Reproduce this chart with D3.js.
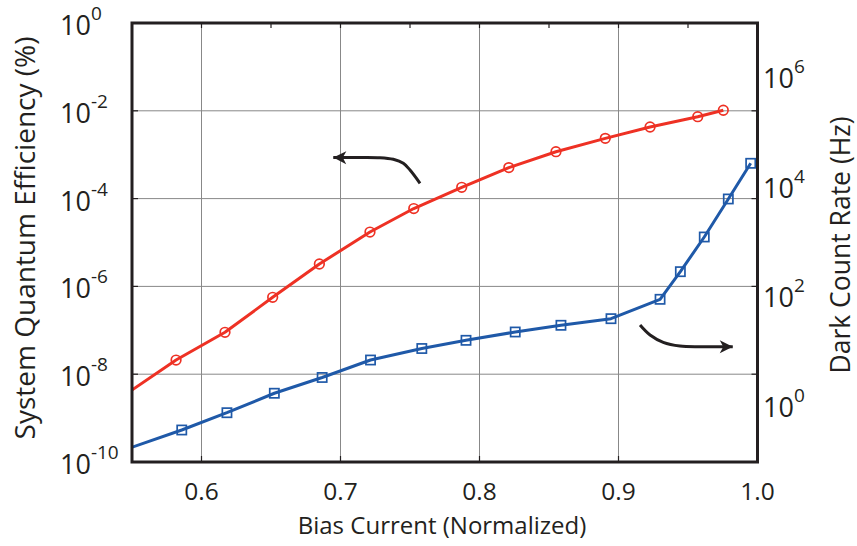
<!DOCTYPE html>
<html>
<head>
<meta charset="utf-8">
<script src="https://cdn.jsdelivr.net/npm/d3@7"></script>
<style>
  body { margin: 0; background: #fff; }
  svg { display: block; }
  text { font-family: "Open Sans", sans-serif; fill: #231f20; }
</style>
</head>
<body>
<svg id="chart" width="857" height="546"></svg>
<script>
// System quantum efficiency (%) vs. normalized bias current (left axis)
const biasSqe = [0.545, 0.5817, 0.6169, 0.6512, 0.6848, 0.7212, 0.7527, 0.7872, 0.8211, 0.8550, 0.8905, 0.9227, 0.9570, 0.9754];
const sqe     = [3.4e-9, 2.1e-8, 9.0e-8, 5.65e-7, 3.24e-6, 1.73e-5, 5.94e-5, 1.81e-4, 5.08e-4, 1.17e-3, 2.36e-3, 4.28e-3, 7.34e-3, 1.03e-2];

// Dark count rate (Hz) vs. normalized bias current (right axis)
const biasDcr = [0.545, 0.5858, 0.6183, 0.6524, 0.6868, 0.7216, 0.7585, 0.7903, 0.8257, 0.8586, 0.8946, 0.9299, 0.9445, 0.9617, 0.9790, 0.9951];
const dcr     = [0.168, 0.383, 0.791, 1.79, 3.47, 7.22, 11.7, 16.5, 23.4, 31.0, 40.9, 92.2, 294, 1260, 6210, 27750];

// Axis ticks
const xTicks      = [0.6, 0.7, 0.8, 0.9, 1.0];
const xTickLabels = ["0.6", "0.7", "0.8", "0.9", "1.0"];
const xMinorTicks = [0.55, 0.6, 0.65, 0.7, 0.75, 0.8, 0.85, 0.9, 0.95, 1.0];
const sqeTicks     = [1e-10, 1e-8, 1e-6, 1e-4, 1e-2, 1];
const sqeExponents = ["-10", "-8", "-6", "-4", "-2", "0"];
const dcrTicks     = [1, 1e2, 1e4, 1e6];
const dcrExponents = ["0", "2", "4", "6"];

// Annotation arrows, in data units of their own axis
const arrowSqeBias = [0.7572, 0.7500, 0.7452, 0.7380, 0.7284, 0.7032, 0.6948];
const arrowSqeVal  = [-3.651, -3.349, -3.196, -3.105, -3.068, -3.066, -3.064].map(e => Math.pow(10, e));
const arrowDcrBias = [0.9155, 0.9227, 0.9322, 0.9442, 0.9586, 0.9730, 0.9822];
const arrowDcrVal  = [1.4966, 1.3144, 1.1814, 1.1139, 1.1011, 1.1011, 1.1011].map(e => Math.pow(10, e));

const RED = "#ee3124", BLUE = "#1f59a8", INK = "#231f20", GRID = "#888888";

const svg = d3.select("#chart");
const plotLeft = 132, plotRight = 757.5, plotTop = 23, plotBottom = 462;

const x  = d3.scaleLinear().domain([0.55, 1.0]).range([plotLeft, plotRight]);
const yL = d3.scaleLog().domain([1e-10, 1]).range([plotBottom, plotTop]);
const yR = d3.scaleLog().domain([0.1, 1e7]).range([plotBottom, plotTop]);

const defs = svg.append("defs");
defs.append("clipPath").attr("id", "plot-clip")
  .append("rect").attr("x", plotLeft).attr("y", plotTop)
  .attr("width", plotRight - plotLeft).attr("height", plotBottom - plotTop);

defs.append("marker")
  .attr("id", "arrowhead")
  .attr("markerUnits", "userSpaceOnUse")
  .attr("viewBox", "-14 -7 15 14")
  .attr("refX", 0).attr("refY", 0)
  .attr("markerWidth", 15).attr("markerHeight", 14)
  .attr("orient", "auto")
  .append("path")
  .attr("d", "M0,0 L-13,-6.5 L-9.5,0 L-13,6.5 Z")
  .attr("fill", INK);

// Grid
const grid = svg.append("g");
grid.selectAll("line.gx").data(xTicks.filter(t => t < 1.0)).join("line").attr("class", "gx")
  .attr("x1", d => x(d)).attr("x2", d => x(d))
  .attr("y1", plotTop).attr("y2", plotBottom)
  .attr("stroke", GRID).attr("stroke-width", 1);
grid.selectAll("line.gy").data(sqeTicks.slice(1, -1)).join("line").attr("class", "gy")
  .attr("x1", plotLeft).attr("x2", plotRight)
  .attr("y1", d => yL(d)).attr("y2", d => yL(d))
  .attr("stroke", GRID).attr("stroke-width", 1);

// Inward ticks on all four sides
const ticks = svg.append("g").attr("stroke", INK).attr("stroke-width", 1.2);
ticks.selectAll("line.l").data(sqeTicks).join("line").attr("class", "l")
  .attr("x1", plotLeft).attr("x2", plotLeft + 6).attr("y1", d => yL(d)).attr("y2", d => yL(d));
ticks.selectAll("line.r").data(sqeTicks).join("line").attr("class", "r")
  .attr("x1", plotRight).attr("x2", plotRight - 6).attr("y1", d => yL(d)).attr("y2", d => yL(d));
ticks.selectAll("line.b").data(xTicks).join("line").attr("class", "b")
  .attr("x1", d => x(d)).attr("x2", d => x(d)).attr("y1", plotBottom).attr("y2", plotBottom - 6);
ticks.selectAll("line.t").data(xMinorTicks).join("line").attr("class", "t")
  .attr("x1", d => x(d)).attr("x2", d => x(d)).attr("y1", plotTop).attr("y2", plotTop + 5);

// Data
const plot = svg.append("g").attr("clip-path", "url(#plot-clip)");

const sqePts = biasSqe.map((b, i) => [b, sqe[i]]);
const dcrPts = biasDcr.map((b, i) => [b, dcr[i]]);

plot.append("path")
  .attr("d", d3.line().x(d => x(d[0])).y(d => yL(d[1]))(sqePts))
  .attr("fill", "none").attr("stroke", RED).attr("stroke-width", 3).attr("stroke-linejoin", "round");
plot.selectAll("circle.sqe").data(sqePts).join("circle").attr("class", "sqe")
  .attr("cx", d => x(d[0])).attr("cy", d => yL(d[1])).attr("r", 4.8)
  .attr("fill", "none").attr("stroke", RED).attr("stroke-width", 1.7);

plot.append("path")
  .attr("d", d3.line().x(d => x(d[0])).y(d => yR(d[1]))(dcrPts))
  .attr("fill", "none").attr("stroke", BLUE).attr("stroke-width", 3).attr("stroke-linejoin", "round");
plot.selectAll("rect.dcr").data(dcrPts).join("rect").attr("class", "dcr")
  .attr("x", d => x(d[0]) - 4.6).attr("y", d => yR(d[1]) - 4.6)
  .attr("width", 9.2).attr("height", 9.2)
  .attr("fill", "none").attr("stroke", BLUE).attr("stroke-width", 1.7);

// Arrows pointing each curve to its axis
const arrowLine = d3.line().curve(d3.curveCatmullRom.alpha(0.5));
svg.append("path")
  .attr("d", arrowLine(arrowSqeBias.map((b, i) => [x(b), yL(arrowSqeVal[i])])))
  .attr("fill", "none").attr("stroke", INK).attr("stroke-width", 3)
  .attr("marker-end", "url(#arrowhead)");
svg.append("path")
  .attr("d", arrowLine(arrowDcrBias.map((b, i) => [x(b), yR(arrowDcrVal[i])])))
  .attr("fill", "none").attr("stroke", INK).attr("stroke-width", 3)
  .attr("marker-end", "url(#arrowhead)");

// Frame
svg.append("rect")
  .attr("x", plotLeft).attr("y", plotTop).attr("width", plotRight - plotLeft).attr("height", plotBottom - plotTop)
  .attr("fill", "none").attr("stroke", INK).attr("stroke-width", 3);

// Tick labels
const powLabel = (g, exp) => {
  g.append("tspan").text("10").attr("font-size", 27);
  g.append("tspan").text(exp).attr("font-size", 19).attr("dy", -15);
};
svg.append("g").selectAll("text").data(sqeTicks).join("text")
  .attr("x", 60).attr("y", d => yL(d) + 12)
  .each(function(d, i) { powLabel(d3.select(this), sqeExponents[i]); });
svg.append("g").selectAll("text").data(dcrTicks).join("text")
  .attr("x", 763).attr("y", d => yR(d) + 10)
  .each(function(d, i) { powLabel(d3.select(this), dcrExponents[i]); });
svg.append("g").selectAll("text").data(xTicks).join("text")
  .attr("x", d => x(d)).attr("y", 500)
  .attr("text-anchor", "middle").attr("font-size", 24.5)
  .text((d, i) => xTickLabels[i]);

// Axis titles
svg.append("text")
  .attr("transform", "translate(35,238) rotate(-90)")
  .attr("text-anchor", "middle").attr("font-size", 28)
  .text("System Quantum Efficiency (%)");
svg.append("text")
  .attr("transform", "translate(850,245) rotate(-90)")
  .attr("text-anchor", "middle").attr("font-size", 26.5)
  .text("Dark Count Rate (Hz)");
svg.append("text")
  .attr("x", 442).attr("y", 534)
  .attr("text-anchor", "middle").attr("font-size", 24)
  .text("Bias Current (Normalized)");
</script>
</body>
</html>
